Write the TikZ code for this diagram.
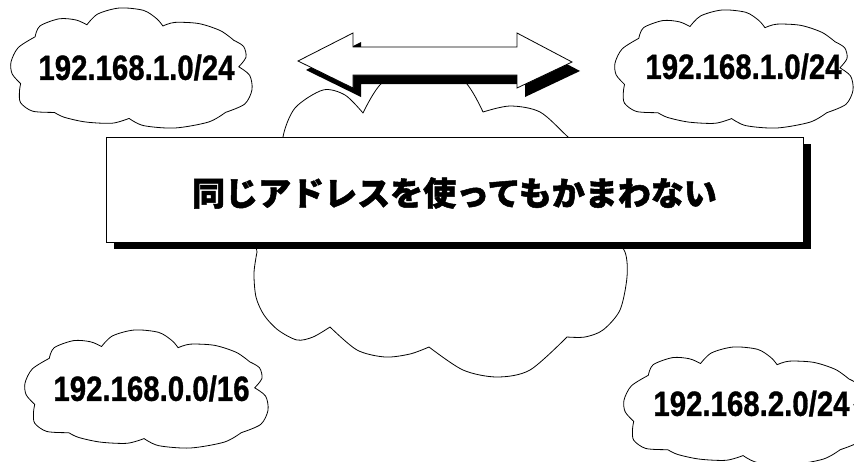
\documentclass[tikz,border=0pt]{standalone}
\usepackage{fontspec}
\setmainfont{Liberation Sans}[BoldFeatures={FakeBold=1}]
\newfontfamily\jpfont{Noto Sans CJK JP}[BoldFeatures={FakeBold=1.5}]
\usepackage{graphicx}
\newcommand\mycloud[4]{%
 \begin{scope}[shift={(#1,#2)},x=#3pt,y=-#4pt]
  \draw[cloudline] plot[smooth] coordinates {(0.10,0.24) (0.12,0.15) (0.20,0.09) (0.27,0.10) (0.315,0.14)}
   -- plot[smooth] coordinates {(0.315,0.14) (0.36,0.05) (0.45,0.0) (0.55,0.02) (0.605,0.09) (0.63,0.15)}
   -- plot[smooth] coordinates {(0.63,0.15) (0.68,0.12) (0.78,0.13) (0.87,0.19) (0.925,0.27)}
   -- plot[smooth] coordinates {(0.925,0.27) (0.965,0.32) (0.975,0.41) (0.945,0.49)}
   -- plot[smooth] coordinates {(0.945,0.49) (0.99,0.56) (1.0,0.68) (0.97,0.80) (0.89,0.87)}
   -- plot[smooth] coordinates {(0.89,0.87) (0.82,0.95) (0.68,1.0) (0.55,0.98) (0.49,0.92)}
   -- plot[smooth] coordinates {(0.49,0.92) (0.42,0.96) (0.31,0.95) (0.22,0.91) (0.18,0.87)}
   -- plot[smooth] coordinates {(0.18,0.87) (0.09,0.86) (0.04,0.79) (0.035,0.70) (0.04,0.63)}
   -- plot[smooth] coordinates {(0.04,0.63) (0.005,0.55) (0.0,0.45) (0.03,0.33) (0.10,0.24)}
   -- cycle;
 \end{scope}}
\newcommand\arrowpath{(298,61) -- (353,33) -- (353,47) -- (517,47) -- (517,33) -- (572,62) -- (517,88) -- (517,75) -- (353,75) -- (353,88) -- cycle}
\begin{document}
\begin{tikzpicture}[x=1pt,y=-1pt,
  cloudline/.style={draw=black,fill=white,line width=0.8pt,line join=round},
  iplabel/.style={inner sep=0pt,font=\fontsize{35}{35}\selectfont\bfseries},
  msglabel/.style={inner sep=0pt,font=\jpfont\bfseries\fontsize{33}{33}\selectfont}]
\useasboundingbox (0,0) rectangle (854,461);
\clip (0,0) rectangle (854,461);
\fill[white] (0,0) rectangle (854,461);
% small clouds
\mycloud{11}{8}{241}{120}
\mycloud{615}{10}{238}{118}
\mycloud{25}{330}{243}{118}
\mycloud{624}{347}{243}{118}
% main cloud
\draw[cloudline] plot[smooth] coordinates {(257,252) (253,215) (262,180) (287,160)}
 -- plot[smooth] coordinates {(287,160) (283,137) (295,108) (323,90) (345,95) (363,113)}
 -- plot[smooth] coordinates {(363,113) (383,82) (423,68) (463,80) (483,112)}
 -- plot[smooth] coordinates {(483,112) (510,106) (540,112) (568,137) (598,165)}
 -- plot[smooth] coordinates {(598,165) (622,185) (620,215) (610,232)}
 -- plot[smooth] coordinates {(610,232) (625,252) (627,277) (620,310) (603,330) (585,337) (567,337)}
 -- plot[smooth] coordinates {(567,337) (530,370) (497,377) (463,370) (429,347)}
 -- plot[smooth] coordinates {(429,347) (410,354) (385,357) (357,350) (330,327)}
 -- plot[smooth] coordinates {(330,327) (313,337) (297,340) (278,330) (264,315) (256,297) (254,273) (257,252)}
 -- cycle;
% double arrow with shadow
\fill[black,shift={(8,9)}] \arrowpath;
\draw[fill=white,line width=0.8pt,line join=miter] \arrowpath;
% message box with shadow
\fill[black] (114,144) rectangle (811,249);
\draw[fill=white,line width=0.8pt] (106,137) rectangle (803,242);
\node[msglabel] (msg) at (454.5,193) {同じアドレスを使ってもかまわない};
% labels
\node[iplabel] (ipa) at (136.5,67.5) {\scalebox{0.84}[1]{192.168.1.0/24}};
\node[iplabel] (ipb) at (743.5,66.5) {\scalebox{0.84}[1]{192.168.1.0/24}};
\node[iplabel] (ipc) at (151.5,388.5) {\scalebox{0.84}[1]{192.168.0.0/16}};
\node[iplabel] (ipd) at (751.5,403.5) {\scalebox{0.84}[1]{192.168.2.0/24}};
\end{tikzpicture}
\end{document}
